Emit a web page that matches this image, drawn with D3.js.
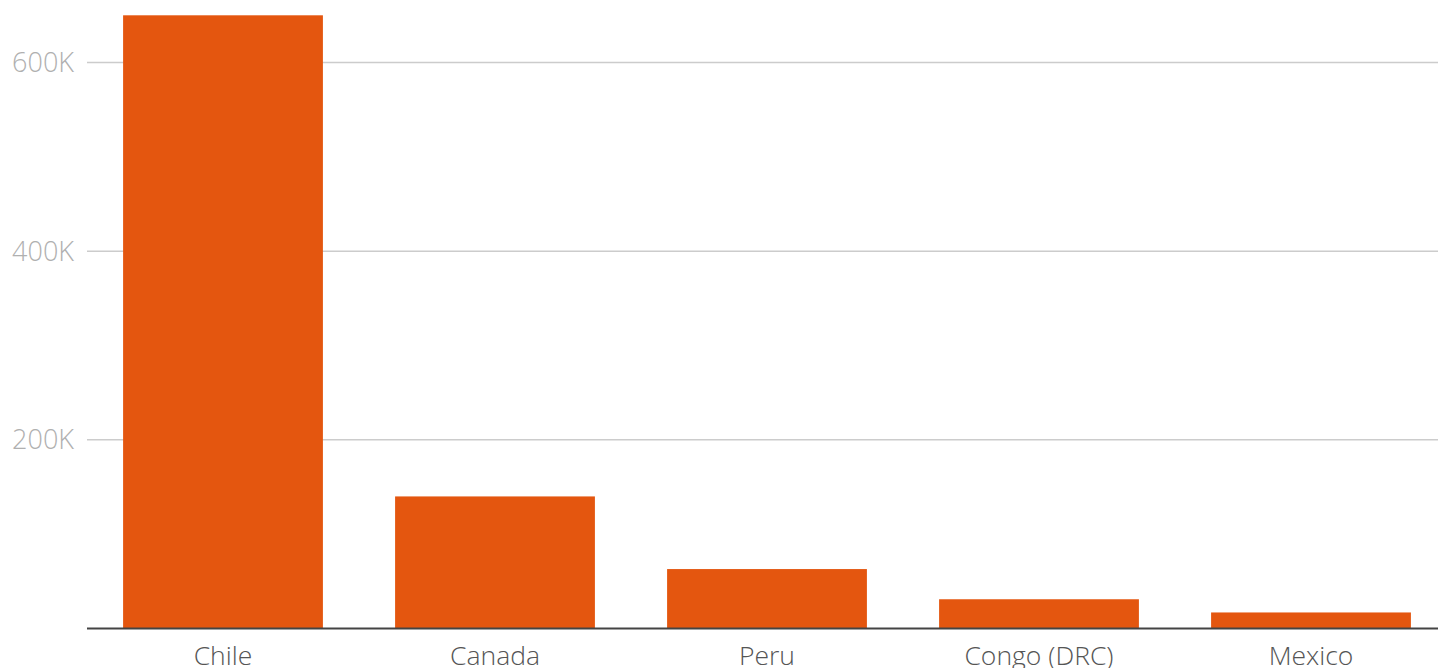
<!DOCTYPE html>
<html>
<head>
<meta charset="utf-8">
<script src="https://cdn.jsdelivr.net/npm/d3@7"></script>
<style>
  body { margin: 0; background: #fff; overflow: hidden; }
  .tick-label { font-family: "Open Sans", sans-serif; font-weight: 300; font-size: 27px; fill: #b0b0b0; }
  .cat-label { font-family: "Open Sans", sans-serif; font-weight: 300; font-size: 26.5px; fill: #555; }
</style>
</head>
<body>
<div id="chart"></div>
<script>
// data (tonnes)
const countries = ["Chile", "Canada", "Peru", "Congo (DRC)", "Mexico"];
const values = [650000, 140000, 63000, 31000, 17000];
const yTicks = [200000, 400000, 600000];

let width = 1438;
let height = 668;
let left = 87;
let baseline = 628.5;

let svg = d3.select("#chart")
  .append("svg")
  .attr("width", width)
  .attr("height", height);

/* scales */
let xScale = d3.scaleBand()
  .domain(countries)
  .range([left, 1447])
  .paddingInner(0.2654)
  .paddingOuter(0.1327);

let yScale = d3.scaleLinear()
  .domain([0, 650000])
  .range([baseline, 15.3]);

/* grid lines */
svg.append("g")
  .selectAll("line")
  .data(yTicks)
  .enter()
  .append("line")
  .attr("x1", left)
  .attr("x2", width)
  .attr("y1", d => yScale(d))
  .attr("y2", d => yScale(d))
  .attr("stroke", "#cccccc")
  .attr("stroke-width", 1.5);

svg.append("g")
  .selectAll("text")
  .data(yTicks)
  .enter()
  .append("text")
  .attr("class", "tick-label")
  .attr("x", 74)
  .attr("y", d => yScale(d))
  .attr("dy", "0.35em")
  .attr("text-anchor", "end")
  .text(d => d3.format("~s")(d).replace("k", "K"));

/* bars */
svg.append("g")
  .selectAll("rect")
  .data(countries)
  .enter()
  .append("rect")
  .attr("x", d => xScale(d))
  .attr("width", xScale.bandwidth())
  .attr("y", (d, i) => yScale(values[i]))
  .attr("height", (d, i) => baseline - yScale(values[i]))
  .attr("fill", "#e4560f");

/* x axis */
svg.append("line")
  .attr("x1", left)
  .attr("x2", width)
  .attr("y1", baseline)
  .attr("y2", baseline)
  .attr("stroke", "#444")
  .attr("stroke-width", 2);

svg.append("g")
  .selectAll("text")
  .data(countries)
  .enter()
  .append("text")
  .attr("class", "cat-label")
  .attr("x", d => xScale(d) + xScale.bandwidth() / 2)
  .attr("y", 665)
  .attr("text-anchor", "middle")
  .text(d => d);
</script>
</body>
</html>
